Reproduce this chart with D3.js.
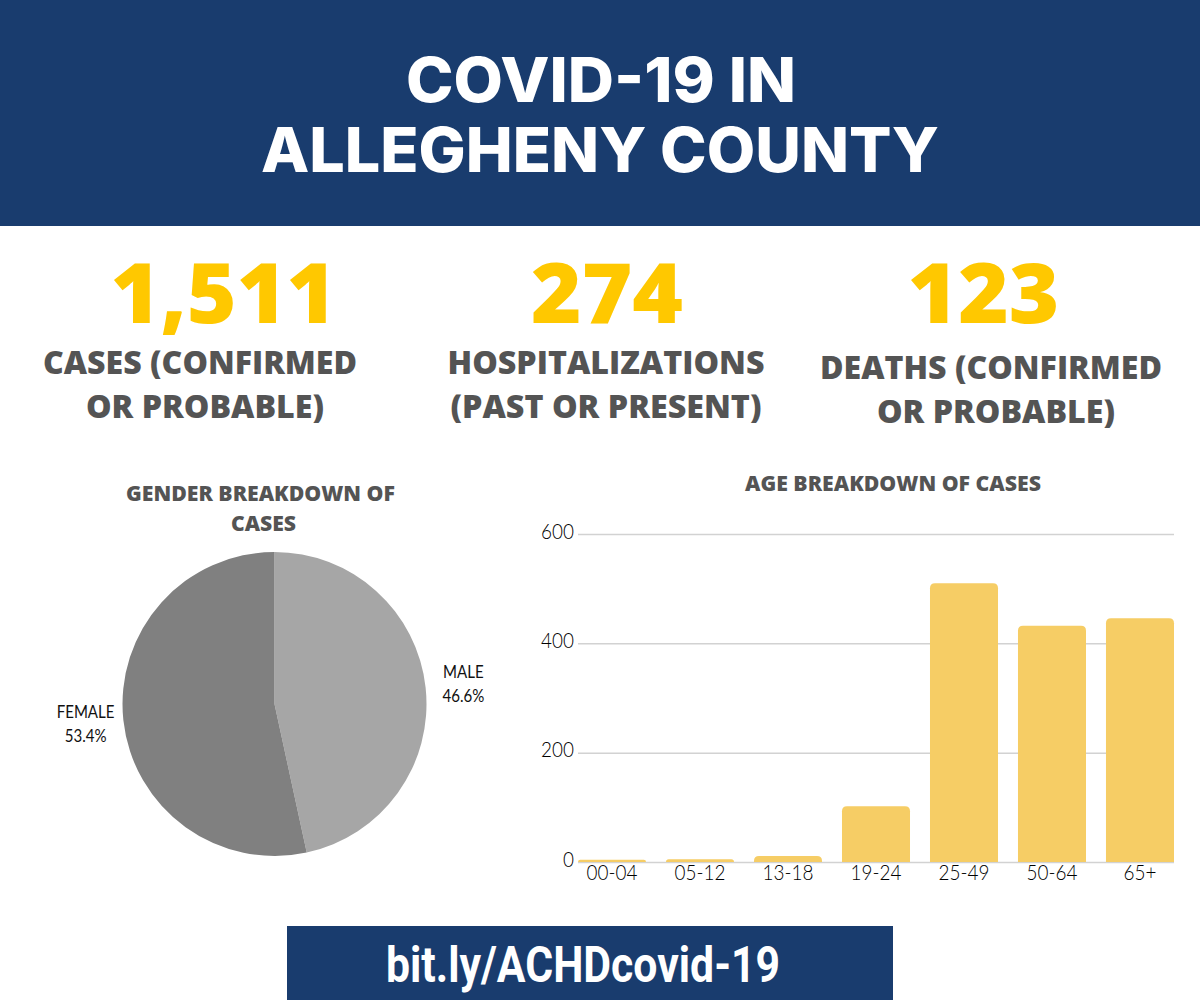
<!DOCTYPE html>
<html>
<head>
<meta charset="utf-8">
<script src="https://cdn.jsdelivr.net/npm/d3@7"></script>
<style>
  html, body { margin: 0; padding: 0; background: #fff; }
  svg { display: block; }
  .domain { display: none; }
</style>
</head>
<body>
<div id="chart"></div>
<script>
const titleLines = ["COVID-19 IN", "ALLEGHENY COUNTY"];
const statValues = ["1,511", "274", "123"];
const statLabels = [
    ["CASES (CONFIRMED", "OR PROBABLE)"],
    ["HOSPITALIZATIONS", "(PAST OR PRESENT)"],
    ["DEATHS (CONFIRMED", "OR PROBABLE)"]
];
const genderTitle = ["GENDER BREAKDOWN OF", "CASES"];
const genders = ["MALE", "FEMALE"];
const genderShare = [46.6, 53.4];
const ageTitle = "AGE BREAKDOWN OF CASES";
const ageGroups = ["00-04", "05-12", "13-18", "19-24", "25-49", "50-64", "65+"];
const ageCases = [4, 5, 11, 102, 510, 432, 446];
const ageTicks = [0, 200, 400, 600];
const footerLink = "bit.ly/ACHDcovid-19";

const navy = "#193c6e", yellow = "#ffc800", dark = "#545454";

const svg = d3.select("#chart").append("svg")
    .attr("width", 1200)
    .attr("height", 1000);

// helper for the static text, w squeezes the text to the width in the picture
function label(str, x, y, size, font, weight, fill, w) {
    const t = svg.append("text")
        .attr("x", x).attr("y", y)
        .attr("text-anchor", "middle")
        .attr("font-family", font)
        .attr("font-weight", weight)
        .attr("font-size", size)
        .attr("fill", fill)
        .text(str);
    if (w) t.attr("textLength", w).attr("lengthAdjust", "spacingAndGlyphs");
    return t;
}

// the chart labels are a condensed face, none is installed so squeeze Lato
function narrow(sel, size, fill, weight, squeeze) {
    sel.attr("font-family", "Lato")
        .attr("font-size", size)
        .attr("font-weight", weight)
        .attr("fill", fill)
        .each(function() {
            d3.select(this)
                .attr("textLength", this.getComputedTextLength() * squeeze)
                .attr("lengthAdjust", "spacingAndGlyphs");
        });
}

// header band
svg.append("rect").attr("width", 1200).attr("height", 226).attr("fill", navy);
label(titleLines[0], 601, 102, 62, "Inter", 800, "#fff", 390);
label(titleLines[1], 600, 172, 62, "Inter", 800, "#fff", 678);

// big numbers
const openSans = "'Open Sans'";
const statX = [223.5, 607, 983.5], statW = [226, 152, 152];
const labelX = [[200, 205], [606, 606], [991, 996]];
const labelW = [[314, 238], [317, 311], [342, 238]];
const labelY = [[374, 418], [374, 418], [379, 423]];
statValues.forEach((v, i) => {
    label(v, statX[i], 323, 84, openSans, 800, yellow, statW[i]);
    statLabels[i].forEach((l, j) => {
        label(l, labelX[i][j], labelY[i][j], 31, openSans, 800, dark, labelW[i][j]);
    });
});

// pie
label(genderTitle[0], 260.5, 501, 21, openSans, 800, dark, 269);
label(genderTitle[1], 263.5, 531, 21, openSans, 800, dark, 65);

const radius = 152;
const pieG = svg.append("g").attr("transform", "translate(274.5,704)");
const pie = d3.pie().sort(null).value(d => d.share);
const arc = d3.arc().innerRadius(0).outerRadius(radius);
const labelArc = d3.arc().innerRadius(190).outerRadius(190);
const color = d3.scaleOrdinal().domain(genders).range(["#a6a6a6", "#808080"]);
const slices = pie(genders.map((g, i) => ({ name: g, share: genderShare[i] })));

pieG.selectAll("path")
    .data(slices)
    .join("path")
    .attr("d", arc)
    .attr("fill", d => color(d.data.name));

const sliceText = pieG.selectAll("g.slice-label")
    .data(slices)
    .join("g")
    .attr("class", "slice-label")
    .attr("transform", d => `translate(${labelArc.centroid(d)})`);
sliceText.append("text").attr("y", -6).attr("text-anchor", "middle").text(d => d.data.name);
sliceText.append("text").attr("y", 18).attr("text-anchor", "middle").text(d => d.data.share.toFixed(1) + "%");
sliceText.selectAll("text").call(narrow, 17.5, "#111", 400, 0.86);

// bars
label(ageTitle, 893, 491, 21, openSans, 800, dark, 296);

const x = d3.scaleBand().domain(ageGroups).range([578, 1174]).paddingInner(0.227);
const y = d3.scaleLinear().domain([0, 600]).range([862, 534]);

svg.append("g")
    .attr("transform", "translate(578,0)")
    .call(d3.axisLeft(y).tickValues(ageTicks).tickSize(-596).tickPadding(4))
    .call(g => g.selectAll("line").attr("stroke", "#d2d2d2").attr("stroke-width", 1.5))
    .call(g => g.selectAll("text")
        .attr("dy", "0.2em")
        .call(narrow, 21, "#000", 300, 0.9));

function topRounded(d, i) {
    const r = Math.min(5, y(0) - y(ageCases[i]));
    const p = d3.path();
    const x0 = x(d), x1 = x(d) + x.bandwidth(), y0 = y(0), y1 = y(ageCases[i]);
    p.moveTo(x0, y0);
    p.lineTo(x0, y1 + r);
    p.quadraticCurveTo(x0, y1, x0 + r, y1);
    p.lineTo(x1 - r, y1);
    p.quadraticCurveTo(x1, y1, x1, y1 + r);
    p.lineTo(x1, y0);
    p.closePath();
    return p.toString();
}

svg.append("g").selectAll("path")
    .data(ageGroups)
    .join("path")
    .attr("d", topRounded)
    .attr("fill", "#f6cd65");

svg.append("g")
    .attr("transform", "translate(0,862)")
    .call(d3.axisBottom(x).tickSize(0).tickPadding(3))
    .call(g => g.selectAll("text").call(narrow, 21, "#000", 300, 0.9));

// footer
svg.append("rect").attr("x", 287).attr("y", 926).attr("width", 606).attr("height", 74).attr("fill", navy);
label(footerLink, 583, 982, 50, "Roboto", 700, "#fff", 394);
</script>
</body>
</html>
